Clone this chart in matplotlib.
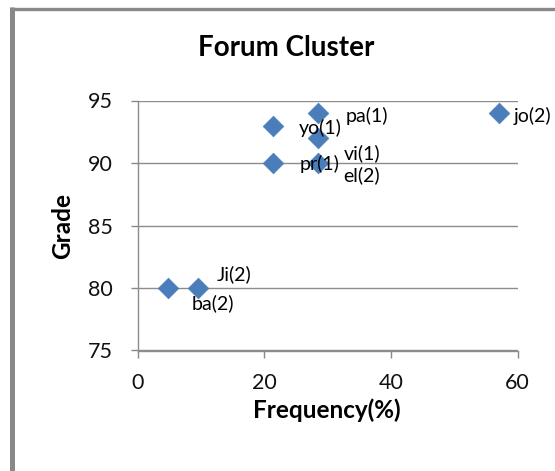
import matplotlib
matplotlib.use("Agg")
import matplotlib.pyplot as plt
from matplotlib.lines import Line2D

plt.rcParams['font.family'] = ['Lato', 'DejaVu Sans']

names = ["ba(2)", "Ji(2)", "pr(1)", "yo(1)", "pa(1)", "vi(1)", "el(2)", "jo(2)"]
freq = [4.76, 9.52, 21.43, 21.43, 28.57, 28.57, 28.57, 57.14]
grade = [80, 80, 90, 93, 94, 92, 90, 94]
# label offsets in points (dx, dy)
offsets = [(17.3, -10.8), (13.7, 9.9), (18.7, -1), (18.7, -1.7), (19.4, -2),
           (18, -10.8), (18, -8.9), (10, -2)]

xticks = [0, 20, 40, 60]
yticks = [75, 80, 85, 90, 95]

fig = plt.figure(figsize=(5.55, 4.71), dpi=100)
W, H = 555, 471
ax = fig.add_axes([137.5 / W, (H - 350.5) / H, 380 / W, 250 / H])

ax.scatter(freq, grade, marker='D', s=110, color='#4a7ebb', edgecolors='#4a7ebb',
           linewidths=0.5, zorder=3, clip_on=False)

for n, x, y, (dx, dy) in zip(names, freq, grade, offsets):
    ax.annotate(n, (x, y), xytext=(dx, dy), textcoords='offset points',
                fontsize=14, ha='left', va='center', color='black', zorder=4,
                annotation_clip=False)

ax.set_xlim(0, 60)
ax.set_ylim(75, 95)
ax.set_xticks(xticks)
ax.set_yticks(yticks)
ax.tick_params(axis='both', labelsize=15.5, colors='#888888', labelcolor='#111111',
               length=5, width=1, direction='out')
ax.tick_params(axis='y', pad=13)
ax.tick_params(axis='x', pad=11)
ax.yaxis.grid(True, color='#8c8c8c', linewidth=1)
ax.set_axisbelow(True)
for s in ['top', 'right']:
    ax.spines[s].set_visible(False)
for s in ['left', 'bottom']:
    ax.spines[s].set_color('#8c8c8c')
    ax.spines[s].set_linewidth(1)

fig.text(286 / W, 1 - 48 / H, "Forum Cluster", fontsize=20, fontweight='bold',
         ha='center', va='center')
fig.text(327 / W, 1 - 410 / H, "Frequency(%)", fontsize=17.5, fontweight='bold',
         ha='center', va='center')
fig.text(63 / W, 1 - 226 / H, "Grade", fontsize=17.5, fontweight='bold',
         ha='center', va='center', rotation=90)

# outer frame (left and top)
fig.add_artist(Line2D([11.5 / W, 11.5 / W], [0, (H - 7) / H], color='#888888',
                      linewidth=3.6, transform=fig.transFigure, solid_capstyle='butt'))
fig.add_artist(Line2D([9.5 / W, 1], [(H - 8.5) / H, (H - 8.5) / H], color='#888888',
                      linewidth=2.4, transform=fig.transFigure, solid_capstyle='butt'))

fig.savefig("out.png", dpi=100)
